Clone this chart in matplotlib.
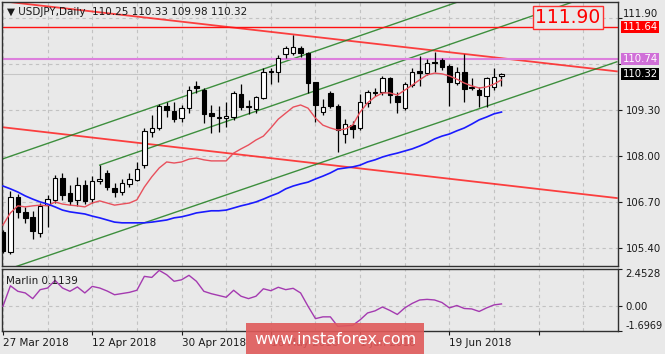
import numpy as np
import matplotlib.pyplot as plt
import matplotlib.transforms as mtransforms
from matplotlib.patches import Rectangle

# daily USDJPY bars, 27 Mar 2018 .. 28 Jun 2018
opens = [105.85, 105.29, 106.84, 106.42, 106.28, 105.82, 106.61, 106.76, 107.38, 106.95,
         106.76, 107.18, 106.78, 107.29, 107.52, 107.10, 106.98, 107.21, 107.32, 107.74,
         108.68, 108.80, 109.41, 109.27, 109.07, 109.35, 109.97, 109.86, 109.21, 109.07,
         109.07, 109.10, 109.75, 109.38, 109.32, 109.64, 110.37, 110.37, 110.88, 110.91,
         111.05, 110.91, 110.09, 109.24, 109.78, 109.41, 108.62, 108.87, 108.79, 109.49,
         109.81, 109.81, 110.20, 109.69, 109.35, 110.00, 110.40, 110.34, 110.66, 110.71,
         110.54, 110.06, 110.37, 109.95, 109.86, 109.69, 109.95, 110.25]
highs = [105.92, 107.01, 106.93, 106.56, 106.45, 106.67, 106.90, 107.46, 107.52, 107.18,
         107.41, 107.32, 107.43, 107.74, 107.60, 107.24, 107.35, 107.52, 107.83, 108.79,
         109.16, 109.48, 109.52, 109.52, 109.44, 109.98, 110.12, 109.92, 109.44, 109.41,
         109.52, 109.84, 110.03, 109.58, 109.69, 110.48, 110.48, 110.85, 111.10, 111.42,
         111.10, 110.94, 110.09, 109.61, 109.84, 109.47, 109.04, 108.99, 109.75, 109.86,
         109.92, 110.26, 110.23, 109.81, 110.09, 110.48, 110.82, 110.75, 110.94, 110.77,
         110.60, 110.51, 110.88, 110.20, 109.95, 110.23, 110.48, 110.33]
lows = [105.25, 105.23, 106.25, 106.11, 105.65, 105.71, 105.99, 106.67, 106.76, 106.61,
        106.59, 106.64, 106.67, 107.21, 107.04, 106.84, 106.90, 107.12, 107.29, 107.66,
        108.54, 108.73, 109.10, 108.96, 108.96, 109.21, 109.78, 108.93, 108.65, 108.68,
        108.82, 109.02, 109.30, 109.18, 109.21, 109.61, 110.03, 110.09, 110.77, 110.85,
        110.80, 109.78, 108.96, 109.15, 109.35, 108.11, 108.37, 108.51, 108.73, 109.38,
        109.69, 109.72, 109.50, 109.21, 109.30, 109.95, 109.98, 110.28, 110.37, 110.43,
        109.40, 110.00, 109.52, 109.86, 109.38, 109.38, 109.86, 109.98]
closes = [105.30, 106.84, 106.42, 106.25, 105.88, 106.59, 106.78, 107.38, 106.90, 106.73,
          107.18, 106.73, 107.29, 107.35, 107.12, 106.98, 107.24, 107.35, 107.63, 108.70,
          108.79, 109.42, 109.30, 109.04, 109.35, 109.86, 109.93, 109.18, 109.13, 109.10,
          109.13, 109.78, 109.38, 109.41, 109.67, 110.37, 110.40, 110.77, 111.05, 111.08,
          110.91, 110.06, 109.44, 109.38, 109.41, 108.73, 108.90, 108.76, 109.52, 109.81,
          109.78, 110.20, 109.72, 109.52, 110.03, 110.37, 110.34, 110.63, 110.63, 110.52,
          110.09, 110.37, 109.89, 109.92, 109.72, 110.20, 110.23, 110.32]

# moving averages
ma_fast = [106.05, 106.39, 106.59, 106.56, 106.59, 106.61, 106.59, 106.70, 106.64, 106.61,
           106.59, 106.56, 106.67, 106.73, 106.67, 106.61, 106.64, 106.67, 106.76, 107.12,
           107.41, 107.66, 107.83, 107.80, 107.83, 107.91, 107.94, 107.89, 107.86, 107.86,
           107.86, 108.08, 108.20, 108.31, 108.45, 108.56, 108.79, 109.04, 109.21, 109.38,
           109.44, 109.35, 109.07, 108.87, 108.79, 108.73, 108.76, 108.87, 109.24, 109.50,
           109.67, 109.78, 109.78, 109.72, 109.86, 110.00, 110.15, 110.29, 110.34, 110.32,
           110.26, 110.17, 110.06, 109.98, 109.92, 109.95, 110.03, 110.15]
ma_slow = [107.15, 107.07, 106.98, 106.87, 106.78, 106.70, 106.64, 106.56, 106.47, 106.42,
           106.39, 106.36, 106.30, 106.25, 106.19, 106.13, 106.11, 106.11, 106.11, 106.11,
           106.13, 106.16, 106.19, 106.25, 106.28, 106.33, 106.39, 106.42, 106.45, 106.45,
           106.47, 106.53, 106.59, 106.64, 106.70, 106.78, 106.87, 106.95, 107.07, 107.15,
           107.21, 107.26, 107.35, 107.43, 107.52, 107.63, 107.66, 107.69, 107.74, 107.83,
           107.89, 107.97, 108.03, 108.08, 108.14, 108.20, 108.28, 108.37, 108.48, 108.56,
           108.62, 108.71, 108.79, 108.90, 109.02, 109.10, 109.19, 109.24]
marlin = [-0.04, 1.33, 0.96, 0.85, 0.47, 1.07, 1.18, 1.69, 1.18, 0.96,
          1.25, 0.85, 1.29, 1.18, 0.98, 0.73, 0.81, 0.89, 1.03, 1.96,
          1.89, 2.36, 2.07, 1.63, 1.73, 2.03, 1.63, 0.96, 0.80, 0.68,
          0.56, 1.03, 0.63, 0.47, 0.63, 1.13, 1.00, 1.23, 1.07, 1.16,
          0.85, -0.04, -0.87, -0.75, -0.75, -1.39, -1.35, -1.32, -0.95, -0.49,
          -0.35, -0.09, -0.32, -0.59, -0.15, 0.15, 0.38, 0.42, 0.38, 0.21,
          -0.15, 0.01, -0.19, -0.22, -0.39, -0.15, 0.05, 0.1139]

date_labels = ['27 Mar 2018', '12 Apr 2018', '30 Apr 2018', '16 May 2018',
               '1 Jun 2018', '19 Jun 2018', '']
price_ticks = [105.40, 106.70, 108.00, 109.30, 110.60, 111.90]
price_labels = ['105.40', '106.70', '108.00', '109.30', '', '']

# hand drawn objects: (bar, price) end points
red_channel = [((-0.4, 112.38), (82.5, 110.39)), ((-0.4, 108.82), (82.5, 106.81))]
green_channel = [((-0.4, 107.89), (82.5, 113.90)), ((13, 107.74), (82.5, 112.78)),
                 ((-0.4, 104.72), (82.5, 110.66))]
level_red = 111.64
level_pink = 110.74
last_price = 110.32

bg = '#e9e9e9'
txt = '#1a1a1a'
n = len(closes)
x = np.arange(n)

fig = plt.figure(figsize=(6.65, 3.54), dpi=100, facecolor=bg)
ax = fig.add_axes([2 / 665, 88 / 354, 616 / 665, 264 / 354], facecolor=bg)
ax2 = fig.add_axes([2 / 665, 23 / 354, 616 / 665, 62 / 354], facecolor=bg)

for a in (ax, ax2):
    a.set_xlim(-0.13, 82.66)
    for s in a.spines.values():
        s.set_color('#303030')
        s.set_linewidth(1)
    a.yaxis.tick_right()
    a.tick_params(axis='y', length=3, width=0.8, pad=2.5, labelsize=7.3, colors=txt)
    for k in range(0, 84, 6):
        a.axvline(k, color='#c2c2c2', lw=0.8, ls=(0, (3, 3)), zorder=0)

# main panel
ax.set_ylim(104.89, 112.35)
ax.set_xticks([])
ax.set_yticks(price_ticks)
ax.set_yticklabels(price_labels)
for p in price_ticks:
    ax.axhline(p, color='#c2c2c2', lw=0.8, ls=(0, (3, 3)), zorder=0)
ax.axhline(last_price, color='#c6c6c6', lw=0.8, zorder=1)

for (x0, y0), (x1, y1) in red_channel:
    ax.plot([x0, x1], [y0, y1], color='#ff2020', lw=1.3, alpha=0.85, zorder=2)
for (x0, y0), (x1, y1) in green_channel:
    ax.plot([x0, x1], [y0, y1], color='#1f7f1f', lw=1.0, alpha=0.85, zorder=2)
ax.axhline(level_red, color='#ff1010', lw=1.0, zorder=2)
ax.axhline(level_pink, color='#dd80dd', lw=1.5, zorder=2)

# candles
for i in range(n):
    o, h, l, c = opens[i], highs[i], lows[i], closes[i]
    ax.vlines(i, l, h, color='black', lw=0.9, zorder=3)
    bottom = min(o, c)
    height = max(abs(c - o), 0.015)
    face = 'white' if c >= o else 'black'
    ax.bar(i, height, bottom=bottom, width=0.6, facecolor=face,
           edgecolor='black', lw=0.8, zorder=4)

ax.plot(x, ma_fast, color='#e8505c', lw=1.0, zorder=5)
ax.plot(x, ma_slow, color='#1a1aff', lw=1.2, zorder=5)

# price labels on the right axis
ytr = mtransforms.blended_transform_factory(ax.transAxes, ax.transData)
# top grid label sits a little higher, as in the terminal
ax.text(1.0075, price_ticks[-1], '%.2f' % price_ticks[-1], fontsize=7.3, color=txt,
        transform=ytr + mtransforms.ScaledTranslation(0, 3 / 72, fig.dpi_scale_trans),
        va='center', ha='left', clip_on=False)
for val, fc in [(level_red, '#ff0000'), (level_pink, '#d070d8'), (last_price, 'black')]:
    ax.text(1.0075, val, '%.2f' % val, transform=ytr, color='white', fontsize=7.3,
            va='center', ha='left', clip_on=False, zorder=10,
            bbox=dict(boxstyle='square,pad=0.12', fc=fc, ec='none'))

ax.text(568, 17.5, '111.90', transform=mtransforms.Affine2D().scale(1, -1).translate(0, 354)
        + mtransforms.IdentityTransform(), color='#ff0000', fontsize=13.5,
        ha='center', va='center', zorder=10,
        bbox=dict(boxstyle='square,pad=0.12', fc=bg, ec='#ff3030', lw=1))

fig.text(7 / 665, 1 - 12 / 354, u'\u25bc USDJPY,Daily  110.25 110.33 109.98 110.32',
         fontsize=7.5, color=txt, va='center', ha='left')

# indicator panel
ax2.set_ylim(-1.6969, 2.4528)
ax2.axhline(0, color='#c2c2c2', lw=0.8, ls=(0, (3, 3)), zorder=0)
ax2.plot(x, marlin, color='#a43ab0', lw=1.0, zorder=3)
ax2.set_yticks([2.4528, 0.0, -1.6969])
ax2.set_yticklabels(['2.4528', '0.00', '-1.6969'])
labs = ax2.get_yticklabels()
labs[0].set_va('top')
labs[2].set_va('bottom')
labs[2].set_fontsize(7)
ax2.set_xticks(list(range(0, 84, 12)))
ax2.set_xticklabels(date_labels, ha='left')
ax2.tick_params(axis='x', length=3, width=0.8, pad=2, labelsize=7.5, colors=txt)
ax2.text(0.006, 0.88, 'Marlin 0.1139', transform=ax2.transAxes, fontsize=7.5,
         color=txt, va='top', ha='left')

# watermark
fig.patches.append(Rectangle((246 / 665, 0), 178 / 665, 31 / 354, transform=fig.transFigure,
                             facecolor='#e05a5a', alpha=0.9, edgecolor='none', zorder=5))
fig.text(335 / 665, 14 / 354, 'www.instaforex.com', color='white', fontsize=11.5,
         ha='center', va='center', zorder=6)

fig.savefig('out.png', dpi=100, facecolor=bg)
